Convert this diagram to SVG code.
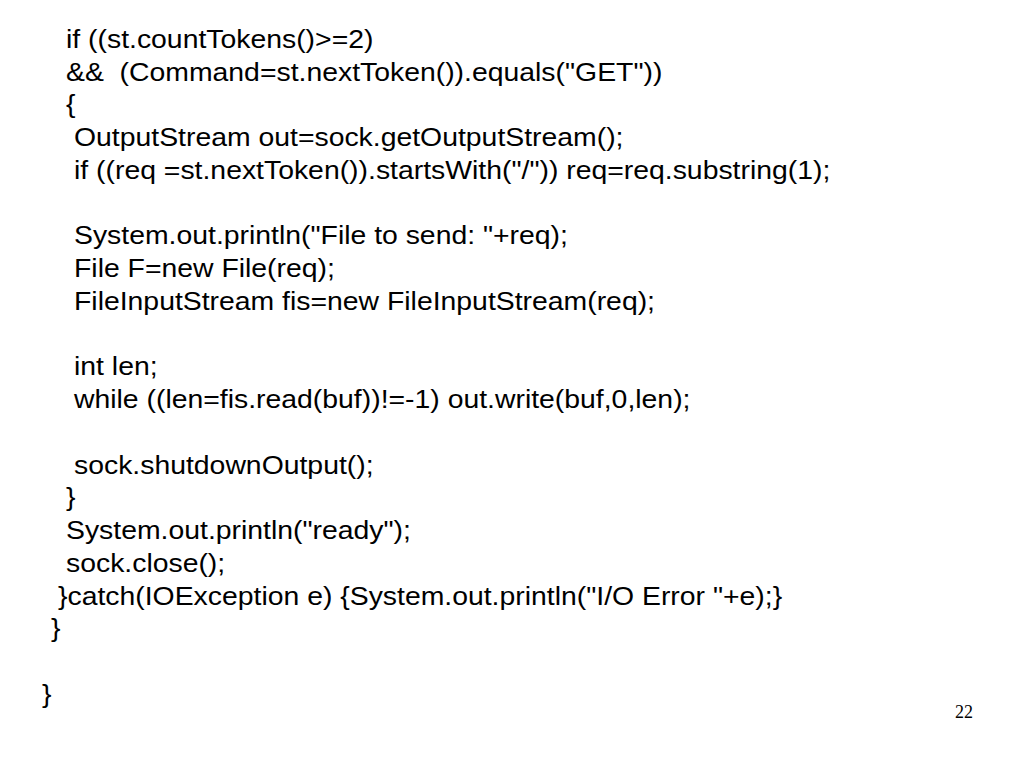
<svg xmlns="http://www.w3.org/2000/svg" width="1024" height="768" viewBox="0 0 1024 768">
<style>
.code{font-family:"Liberation Sans",Arial,Helvetica,sans-serif;font-size:25px;fill:#000;white-space:pre}
.num{font-family:"Liberation Serif","Times New Roman",serif;font-size:18px;fill:#000}
</style>
<rect x="0" y="0" width="1024" height="768" fill="#fff"/>
<g id="code" transform="scale(1.135 1)">
<text class="code" x="58.15" y="48">if ((st.countTokens()&gt;=2)</text>
<text class="code" x="58.15" y="80.75">&amp;&amp;  (Command=st.nextToken()).equals("GET"))</text>
<text class="code" x="58.15" y="113.5">{</text>
<text class="code" x="65.2" y="146.25">OutputStream out=sock.getOutputStream();</text>
<text class="code" x="65.2" y="179">if ((req =st.nextToken()).startsWith("/")) req=req.substring(1);</text>
<text class="code" x="65.2" y="244.5">System.out.println("File to send: "+req);</text>
<text class="code" x="65.2" y="277.25">File F=new File(req);</text>
<text class="code" x="65.2" y="310">FileInputStream fis=new FileInputStream(req);</text>
<text class="code" x="65.2" y="375.5">int len;</text>
<text class="code" x="65.2" y="408.25">while ((len=fis.read(buf))!=-1) out.write(buf,0,len);</text>
<text class="code" x="65.2" y="473.75">sock.shutdownOutput();</text>
<text class="code" x="58.15" y="506.5">}</text>
<text class="code" x="58.15" y="539.25">System.out.println("ready");</text>
<text class="code" x="58.15" y="572">sock.close();</text>
<text class="code" x="51.1" y="604.75">}catch(IOException e) {System.out.println("I/O Error "+e);}</text>
<text class="code" x="44.9" y="637.5">}</text>
<text class="code" x="37" y="703">}</text>
</g>
<text class="num" x="955" y="718">22</text>
</svg>
